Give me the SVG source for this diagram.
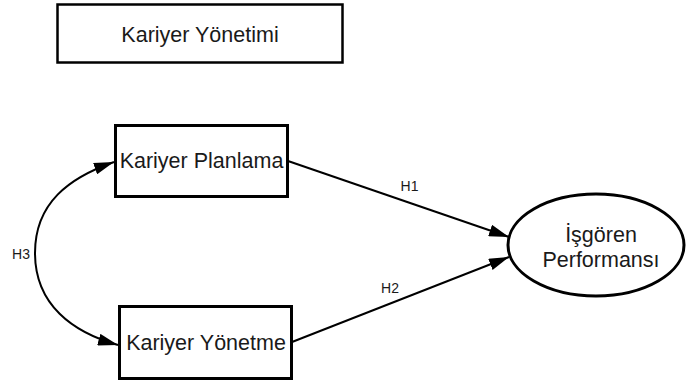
<svg xmlns="http://www.w3.org/2000/svg" width="686" height="383" viewBox="0 0 686 383">
  <style>
    .box { fill: #ffffff; stroke: #000000; stroke-width: 3; }
    .lbl { font-family: "Liberation Sans", Arial, sans-serif; font-size: 21.5px; fill: #1a1a1a; text-anchor: middle; }
    .hl { font-family: "Liberation Sans", Arial, sans-serif; font-size: 14px; fill: #1a1a1a; text-anchor: middle; }
    .conn { fill: none; stroke: #000000; stroke-width: 2; }
  </style>
  <defs>
    <marker id="arr" markerUnits="userSpaceOnUse" markerWidth="20" markerHeight="12" refX="20" refY="6" orient="auto-start-reverse" viewBox="0 0 20 12">
      <path d="M0,0 L20,6 L0,12 Z" fill="#000000"/>
    </marker>
  </defs>
  <rect width="686" height="383" fill="#ffffff"/>

  <g id="kariyer-yonetimi">
    <rect class="box" x="57.5" y="4.5" width="285" height="58" style="stroke-width:2.5"/>
    <text class="lbl" x="200" y="42">Kariyer Yönetimi</text>
  </g>

  <g id="kariyer-planlama">
    <rect class="box" x="115.5" y="125.5" width="172" height="71"/>
    <text class="lbl" x="201.5" y="168">Kariyer Planlama</text>
  </g>

  <g id="kariyer-yonetme">
    <rect class="box" x="119.5" y="306.5" width="172" height="72"/>
    <text class="lbl" x="206" y="350">Kariyer Yönetme</text>
  </g>

  <g id="isgoren-performansi">
    <ellipse class="box" cx="596" cy="245" rx="88" ry="51"/>
    <text class="lbl" x="601" y="242">İşgören</text>
    <text class="lbl" x="601" y="267">Performansı</text>
  </g>

  <g id="connectors">
    <path class="conn" d="M288,161 L509,237" marker-end="url(#arr)"/>
    <path class="conn" d="M292,342 L509,257" marker-end="url(#arr)"/>
    <path class="conn" d="M114,162 C69,177.75 35,203 35,253 C35,305 73,332.4 118,345" marker-start="url(#arr)" marker-end="url(#arr)"/>
    <text class="hl" x="409.5" y="191">H1</text>
    <text class="hl" x="390" y="293">H2</text>
    <text class="hl" x="21" y="259">H3</text>
  </g>
</svg>
